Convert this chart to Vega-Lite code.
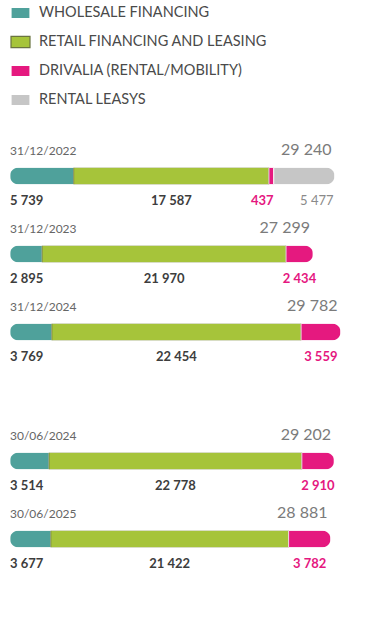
{
  "$schema": "https://vega.github.io/schema/vega-lite/v6.json",
  "padding": {"left": 10, "top": 2, "right": 0, "bottom": 0},
  "background": "white",
  "config": {
    "view": {"stroke": null},
    "font": "Lato",
    "locale": {"number": {"decimal": ",", "thousands": " ", "grouping": [3], "currency": ["", " €"]}},
    "concat": {"spacing": 51}
  },
  "datasets": {
    "rows": [
      {"panel": "A", "date": "31/12/2022", "seg": "WHOLESALE FINANCING", "value": 5739},
      {"panel": "A", "date": "31/12/2022", "seg": "RETAIL FINANCING AND LEASING", "value": 17587},
      {"panel": "A", "date": "31/12/2022", "seg": "DRIVALIA (RENTAL/MOBILITY)", "value": 437},
      {"panel": "A", "date": "31/12/2022", "seg": "RENTAL LEASYS", "value": 5477},
      {"panel": "A", "date": "31/12/2023", "seg": "WHOLESALE FINANCING", "value": 2895},
      {"panel": "A", "date": "31/12/2023", "seg": "RETAIL FINANCING AND LEASING", "value": 21970},
      {"panel": "A", "date": "31/12/2023", "seg": "DRIVALIA (RENTAL/MOBILITY)", "value": 2434},
      {"panel": "A", "date": "31/12/2024", "seg": "WHOLESALE FINANCING", "value": 3769},
      {"panel": "A", "date": "31/12/2024", "seg": "RETAIL FINANCING AND LEASING", "value": 22454},
      {"panel": "A", "date": "31/12/2024", "seg": "DRIVALIA (RENTAL/MOBILITY)", "value": 3559},
      {"panel": "B", "date": "30/06/2024", "seg": "WHOLESALE FINANCING", "value": 3514},
      {"panel": "B", "date": "30/06/2024", "seg": "RETAIL FINANCING AND LEASING", "value": 22778},
      {"panel": "B", "date": "30/06/2024", "seg": "DRIVALIA (RENTAL/MOBILITY)", "value": 2910},
      {"panel": "B", "date": "30/06/2025", "seg": "WHOLESALE FINANCING", "value": 3677},
      {"panel": "B", "date": "30/06/2025", "seg": "RETAIL FINANCING AND LEASING", "value": 21422},
      {"panel": "B", "date": "30/06/2025", "seg": "DRIVALIA (RENTAL/MOBILITY)", "value": 3782}
    ]
  },
  "vconcat": [
    {
      "data": {"name": "rows"},
      "width": 333,
      "height": {"step": 78},
      "transform": [
        {"filter": "datum.panel === 'A'"},
        {"window": [{"op": "row_number", "as": "idx"}], "groupby": ["date"]},
        {"stack": "value", "groupby": ["date"], "sort": [{"field": "idx"}], "as": ["x0", "x1"]}
      ],
      "encoding": {
        "y": {"field": "date", "type": "nominal", "sort": null, "axis": null, "scale": {"paddingInner": 0, "paddingOuter": 0}}
      },
      "layer": [
        {
          "mark": {"type": "bar", "size": 17, "cornerRadius": 9, "strokeWidth": 0.8},
          "encoding": {
            "x": {"field": "value", "type": "quantitative", "stack": "zero", "scale": {"domain": [0, 30000], "nice": false}, "axis": null},
            "order": {"field": "idx"},
            "fill": {"field": "seg", "type": "nominal", "title": null,
              "scale": {"domain": ["WHOLESALE FINANCING", "RETAIL FINANCING AND LEASING", "DRIVALIA (RENTAL/MOBILITY)", "RENTAL LEASYS"], "range": ["#4fa19b", "#a6c43a", "#e5197f", "#c6c6c6"]},
              "legend": {"orient": "none", "legendX": 0, "legendY": -134.5, "direction": "vertical", "labelFont": "Lato", "labelFontSize": 14.5, "labelColor": "#4a4a4a", "symbolType": "M-1,-0.6H1V0.6H-1Z", "symbolSize": 361, "rowPadding": 10, "labelOffset": 8, "padding": 0, "symbolStrokeWidth": 1.2, "labelLimit": 400}},
            "stroke": {"field": "seg", "type": "nominal", "title": null,
              "scale": {"domain": ["WHOLESALE FINANCING", "RETAIL FINANCING AND LEASING", "DRIVALIA (RENTAL/MOBILITY)", "RENTAL LEASYS"], "range": ["#ffffff", "#6a7440", "#ffffff", "#ffffff"]}}
          }
        },
        {
          "mark": {"type": "text", "align": "left", "baseline": "middle", "dy": -25, "fontSize": 12, "color": "#666666"},
          "encoding": {
            "x": {"aggregate": "min", "field": "x0", "type": "quantitative"},
            "text": {"field": "date", "type": "nominal"}
          }
        },
        {
          "mark": {"type": "text", "align": "right", "baseline": "middle", "dy": -26.5, "dx": -3, "fontSize": 16, "color": "#7b7b7b"},
          "encoding": {
            "x": {"aggregate": "max", "field": "x1", "type": "quantitative"},
            "text": {"aggregate": "sum", "field": "value", "type": "quantitative", "format": ",d"}
          }
        },
        {
          "transform": [{"filter": "datum.seg === 'WHOLESALE FINANCING'"}],
          "mark": {"type": "text", "align": "left", "baseline": "middle", "dy": 25, "fontSize": 13, "fontWeight": "bold", "color": "#3d3d3d"},
          "encoding": {
            "x": {"field": "x0", "type": "quantitative"},
            "text": {"field": "value", "type": "quantitative", "format": ",d"}
          }
        },
        {
          "transform": [
            {"filter": "(datum.seg === 'RETAIL FINANCING AND LEASING' || datum.seg === 'DRIVALIA (RENTAL/MOBILITY)') && datum.value > 1000"},
            {"fold": ["x0", "x1"], "as": ["k", "pos"]}
          ],
          "mark": {"type": "text", "align": "center", "baseline": "middle", "dy": 25, "fontSize": 13, "fontWeight": "bold"},
          "encoding": {
            "x": {"aggregate": "mean", "field": "pos", "type": "quantitative"},
            "detail": {"field": "seg"},
            "text": {"field": "value", "type": "quantitative", "format": ",d"},
            "color": {"condition": {"test": "datum.seg === 'DRIVALIA (RENTAL/MOBILITY)'", "value": "#e5177f"}, "value": "#3d3d3d"}
          }
        },
        {
          "transform": [
            {"filter": "datum.seg === 'DRIVALIA (RENTAL/MOBILITY)' && datum.value <= 1000"},
            {"fold": ["x0", "x1"], "as": ["k", "pos"]}
          ],
          "mark": {"type": "text", "align": "center", "baseline": "middle", "dy": 25, "dx": -9, "fontSize": 13, "fontWeight": "bold", "color": "#e5177f"},
          "encoding": {
            "x": {"aggregate": "mean", "field": "pos", "type": "quantitative"},
            "detail": {"field": "seg"},
            "text": {"field": "value", "type": "quantitative", "format": ",d"}
          }
        },
        {
          "transform": [{"filter": "datum.seg === 'RENTAL LEASYS'"}],
          "mark": {"type": "text", "align": "right", "baseline": "middle", "dy": 25, "dx": -1, "fontSize": 13, "color": "#8a8a8a"},
          "encoding": {
            "x": {"field": "x1", "type": "quantitative"},
            "text": {"field": "value", "type": "quantitative", "format": ",d"}
          }
        }
      ]
    },
    {
      "data": {"name": "rows"},
      "width": 333,
      "height": {"step": 78},
      "transform": [
        {"filter": "datum.panel === 'B'"},
        {"window": [{"op": "row_number", "as": "idx"}], "groupby": ["date"]},
        {"stack": "value", "groupby": ["date"], "sort": [{"field": "idx"}], "as": ["x0", "x1"]}
      ],
      "encoding": {
        "y": {"field": "date", "type": "nominal", "sort": null, "axis": null, "scale": {"paddingInner": 0, "paddingOuter": 0}}
      },
      "layer": [
        {
          "mark": {"type": "bar", "size": 17, "cornerRadius": 9, "strokeWidth": 0.8},
          "encoding": {
            "x": {"field": "value", "type": "quantitative", "stack": "zero", "scale": {"domain": [0, 30000], "nice": false}, "axis": null},
            "order": {"field": "idx"},
            "fill": {"field": "seg", "type": "nominal", "title": null,
              "scale": {"domain": ["WHOLESALE FINANCING", "RETAIL FINANCING AND LEASING", "DRIVALIA (RENTAL/MOBILITY)", "RENTAL LEASYS"], "range": ["#4fa19b", "#a6c43a", "#e5197f", "#c6c6c6"]}},
            "stroke": {"field": "seg", "type": "nominal", "title": null,
              "scale": {"domain": ["WHOLESALE FINANCING", "RETAIL FINANCING AND LEASING", "DRIVALIA (RENTAL/MOBILITY)", "RENTAL LEASYS"], "range": ["#ffffff", "#6a7440", "#ffffff", "#ffffff"]}}
          }
        },
        {
          "mark": {"type": "text", "align": "left", "baseline": "middle", "dy": -25, "fontSize": 12, "color": "#666666"},
          "encoding": {
            "x": {"aggregate": "min", "field": "x0", "type": "quantitative"},
            "text": {"field": "date", "type": "nominal"}
          }
        },
        {
          "mark": {"type": "text", "align": "right", "baseline": "middle", "dy": -26.5, "dx": -3, "fontSize": 16, "color": "#7b7b7b"},
          "encoding": {
            "x": {"aggregate": "max", "field": "x1", "type": "quantitative"},
            "text": {"aggregate": "sum", "field": "value", "type": "quantitative", "format": ",d"}
          }
        },
        {
          "transform": [{"filter": "datum.seg === 'WHOLESALE FINANCING'"}],
          "mark": {"type": "text", "align": "left", "baseline": "middle", "dy": 25, "fontSize": 13, "fontWeight": "bold", "color": "#3d3d3d"},
          "encoding": {
            "x": {"field": "x0", "type": "quantitative"},
            "text": {"field": "value", "type": "quantitative", "format": ",d"}
          }
        },
        {
          "transform": [
            {"filter": "datum.seg === 'RETAIL FINANCING AND LEASING' || datum.seg === 'DRIVALIA (RENTAL/MOBILITY)'"},
            {"fold": ["x0", "x1"], "as": ["k", "pos"]}
          ],
          "mark": {"type": "text", "align": "center", "baseline": "middle", "dy": 25, "fontSize": 13, "fontWeight": "bold"},
          "encoding": {
            "x": {"aggregate": "mean", "field": "pos", "type": "quantitative"},
            "detail": {"field": "seg"},
            "text": {"field": "value", "type": "quantitative", "format": ",d"},
            "color": {"condition": {"test": "datum.seg === 'DRIVALIA (RENTAL/MOBILITY)'", "value": "#e5177f"}, "value": "#3d3d3d"}
          }
        }
      ]
    }
  ]
}
